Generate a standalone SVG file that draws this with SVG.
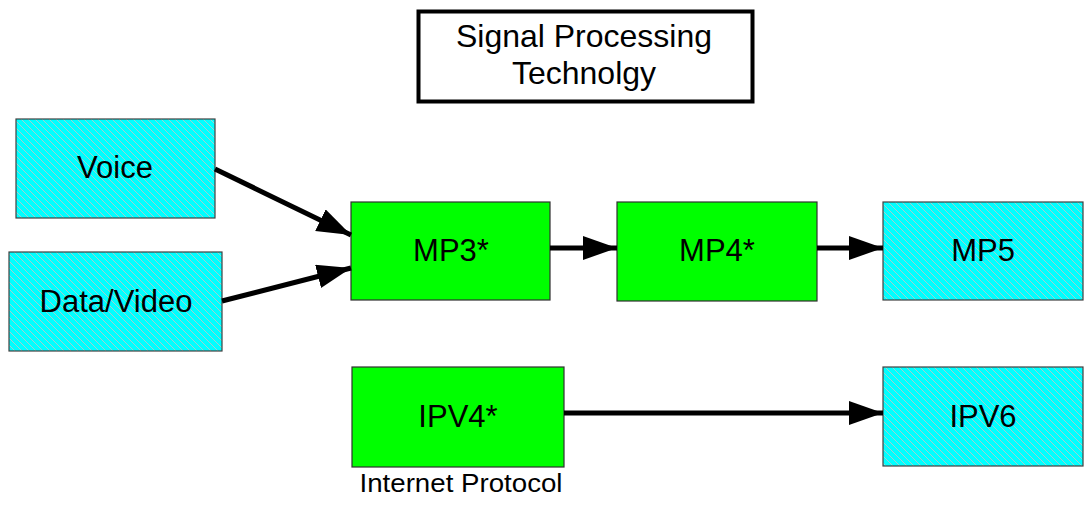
<svg xmlns="http://www.w3.org/2000/svg" width="1086" height="505" viewBox="0 0 1086 505">
  <style>
    .hatch { fill: url(#hatch); stroke: #404040; stroke-width: 1.2; }
    .green { fill: #00ff00; stroke: #303030; stroke-width: 1.2; }
    .lbl { font-family: "Liberation Sans", Arial, sans-serif; font-size: 31px; fill: #000; text-anchor: middle; }
    .ttl { font-family: "Liberation Sans", Arial, sans-serif; font-size: 32px; fill: #000; text-anchor: middle; }
    .small { font-family: "Liberation Sans", Arial, sans-serif; font-size: 25px; fill: #000; text-anchor: middle; }
    .conn { stroke: #000; stroke-width: 5; fill: none; marker-end: url(#arrow); }
  </style>
  <defs>
    <pattern id="hatch" patternUnits="userSpaceOnUse" width="7" height="7">
      <rect width="7" height="7" fill="#00ffff"/>
      <path d="M0,0 L7,7 M-1,6 L1,8 M6,-1 L8,1" stroke="#b8c8c8" stroke-width="0.9"/>
    </pattern>
    <marker id="arrow" markerUnits="userSpaceOnUse" markerWidth="36" markerHeight="26" refX="34" refY="12" orient="auto">
      <path d="M0,0 L34,12 L0,24 Z" fill="#000"/>
    </marker>
  </defs>

  <g id="title">
    <rect x="418.5" y="11.5" width="334" height="90" fill="#fff" stroke="#000" stroke-width="4"/>
    <text class="ttl" x="584" y="47">Signal Processing</text>
    <text class="ttl" x="584" y="84">Technolgy</text>
  </g>

  <g id="voice">
    <rect class="hatch" x="16" y="119" width="199" height="99"/>
    <text class="lbl" x="115" y="178">Voice</text>
  </g>
  <g id="datavideo">
    <rect class="hatch" x="9" y="252" width="213" height="99"/>
    <text class="lbl" x="116" y="312">Data/Video</text>
  </g>
  <g id="mp3">
    <rect class="green" x="351" y="202" width="199" height="98"/>
    <text class="lbl" x="451" y="261">MP3*</text>
  </g>
  <g id="mp4">
    <rect class="green" x="617" y="202" width="200" height="99"/>
    <text class="lbl" x="717" y="261">MP4*</text>
  </g>
  <g id="mp5">
    <rect class="hatch" x="883" y="202" width="200" height="98"/>
    <text class="lbl" x="983" y="261">MP5</text>
  </g>
  <g id="ipv4">
    <rect class="green" x="352" y="367" width="212" height="100"/>
    <text class="lbl" x="458" y="427">IPV4*</text>
    <text class="small" x="461" y="492" textLength="203" lengthAdjust="spacingAndGlyphs">Internet Protocol</text>
  </g>
  <g id="ipv6">
    <rect class="hatch" x="883" y="367" width="200" height="99"/>
    <text class="lbl" x="983" y="427">IPV6</text>
  </g>

  <g id="connectors">
    <line class="conn" x1="215" y1="169" x2="351" y2="235"/>
    <line class="conn" x1="222" y1="301" x2="351" y2="268"/>
    <line class="conn" x1="550" y1="248" x2="617" y2="248"/>
    <line class="conn" x1="817" y1="248" x2="883" y2="248"/>
    <line class="conn" x1="564" y1="413" x2="883" y2="413"/>
  </g>
</svg>
